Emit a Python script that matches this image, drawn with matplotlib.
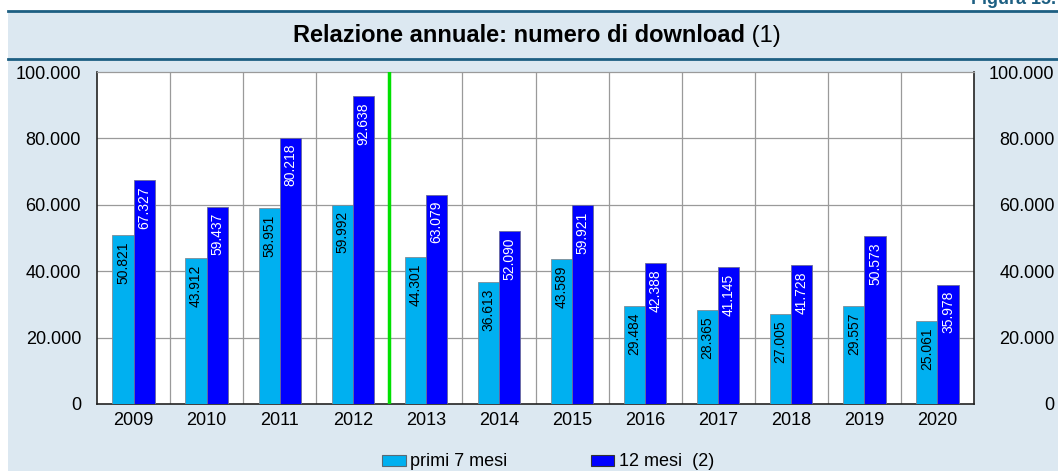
import numpy as np
import matplotlib.pyplot as plt
from matplotlib.patches import Rectangle, Patch
from matplotlib.lines import Line2D

plt.rcParams['font.family'] = ['Liberation Sans', 'DejaVu Sans']

# dati
anni = ['2009', '2010', '2011', '2012', '2013', '2014', '2015', '2016', '2017', '2018', '2019', '2020']
primi_7_mesi = [50821, 43912, 58951, 59992, 44301, 36613, 43589, 29484, 28365, 27005, 29557, 25061]
dodici_mesi = [67327, 59437, 80218, 92638, 63079, 52090, 59921, 42388, 41145, 41728, 50573, 35978]
y_ticks = [0, 20000, 40000, 60000, 80000, 100000]

fondo = '#dce8f1'
teal = '#1d5f82'
c_primi = '#00b0f0'
c_dodici = '#0000ff'
W, H = 1058, 471


def fmt(v):
    return f'{v:,}'.replace(',', '.')


fig = plt.figure(figsize=(W / 100, H / 100), dpi=100)
fig.patch.set_facecolor('white')

# pannello azzurro con linee in alto
fig.add_artist(Rectangle((8 / W, 0), 1 - 8 / W, 1 - 11 / H,
                         transform=fig.transFigure, facecolor=fondo, edgecolor='none', zorder=0))
for yy in (1 - 11 / H, 1 - 58.5 / H):
    fig.add_artist(Line2D([8 / W, 1], [yy, yy], transform=fig.transFigure,
                          color=teal, lw=2))
fig.text(1 - 2 / W, 1 - 4 / H, 'Figura 15.', ha='right', va='baseline',
         color=teal, fontsize=13, fontweight='bold')

# titolo (parte in grassetto + nota)
t1 = fig.text(0.5, 1 - 36 / H, 'Relazione annuale: numero di download', ha='right', va='center',
              fontsize=17, fontweight='bold')
t2 = fig.text(0.5, 1 - 36 / H, ' (1)', ha='left', va='center', fontsize=17)
fig.canvas.draw()
r = fig.canvas.get_renderer()
w1 = t1.get_window_extent(r).width
w2 = t2.get_window_extent(r).width
xc = 536.5 / W + (w1 - w2) / 2 / W
t1.set_x(xc)
t2.set_x(xc)

ax = fig.add_axes([97 / W, 1 - 404 / H, (974 - 97) / W, (404 - 72) / H])
ax.set_facecolor('white')

x = np.arange(len(anni))
w = 0.29
ax.bar(x - w / 2, primi_7_mesi, w, color=c_primi, edgecolor='#7f8c95', linewidth=0.6, zorder=3)
ax.bar(x + w / 2, dodici_mesi, w, color=c_dodici, edgecolor='#6a6a9a', linewidth=0.6, zorder=3)

for xi, v in zip(x - w / 2, primi_7_mesi):
    ax.annotate(fmt(v), (xi, v), xytext=(0, -4.5), textcoords='offset points', rotation=90,
                ha='center', va='top', fontsize=10, color='black', zorder=4)
for xi, v in zip(x + w / 2, dodici_mesi):
    ax.annotate(fmt(v), (xi, v), xytext=(0, -4.5), textcoords='offset points', rotation=90,
                ha='center', va='top', fontsize=10, color='white', zorder=4)

ax.set_xlim(-0.5, len(anni) - 0.5)
ax.set_ylim(0, 100000)
ax.set_xticks(x)
ax.set_xticklabels(anni, fontsize=13)
ax.set_yticks(y_ticks)
ax.set_yticklabels([fmt(v) for v in y_ticks], fontsize=13)
ax.tick_params(axis='x', length=0, pad=6)
ax.tick_params(axis='y', length=0, pad=11.5)

# griglia
for yv in y_ticks[1:-1]:
    ax.axhline(yv, color='#9a9a9a', lw=0.9, zorder=1)
for xb in np.arange(0.5, len(anni) - 0.5, 1):
    ax.axvline(xb, color='#9a9a9a', lw=0.9, zorder=1)
ax.axvline(3.5, color='#00e000', lw=2.5, zorder=5)

for s in ('left', 'bottom', 'right'):
    ax.spines[s].set_color('#222222')
    ax.spines[s].set_linewidth(1.2)
ax.spines['top'].set_color('#9a9a9a')
ax.spines['top'].set_linewidth(0.9)

# etichette a destra, allineate a destra
ax2 = ax.twinx()
ax2.set_ylim(ax.get_ylim())
ax2.set_yticks(y_ticks)
ax2.set_yticklabels([fmt(v) for v in y_ticks], fontsize=13, ha='right')
ax2.tick_params(axis='y', length=0, pad=58)
ax2.spines[:].set_visible(False)

handles = [Patch(facecolor=c_primi, edgecolor='#5a6a75', linewidth=0.8),
           Patch(facecolor=c_dodici, edgecolor='#333333', linewidth=0.8)]
fig.legend(handles, ['primi 7 mesi', '12 mesi  (2)'], ncol=2, loc='center',
           bbox_to_anchor=(548 / W, 1 - 462 / H), frameon=False, fontsize=13,
           handlelength=1.3, handleheight=0.55, handletextpad=0.25, columnspacing=4.6,
           borderpad=0)

fig.savefig('out.png', dpi=100, facecolor=fig.get_facecolor())
